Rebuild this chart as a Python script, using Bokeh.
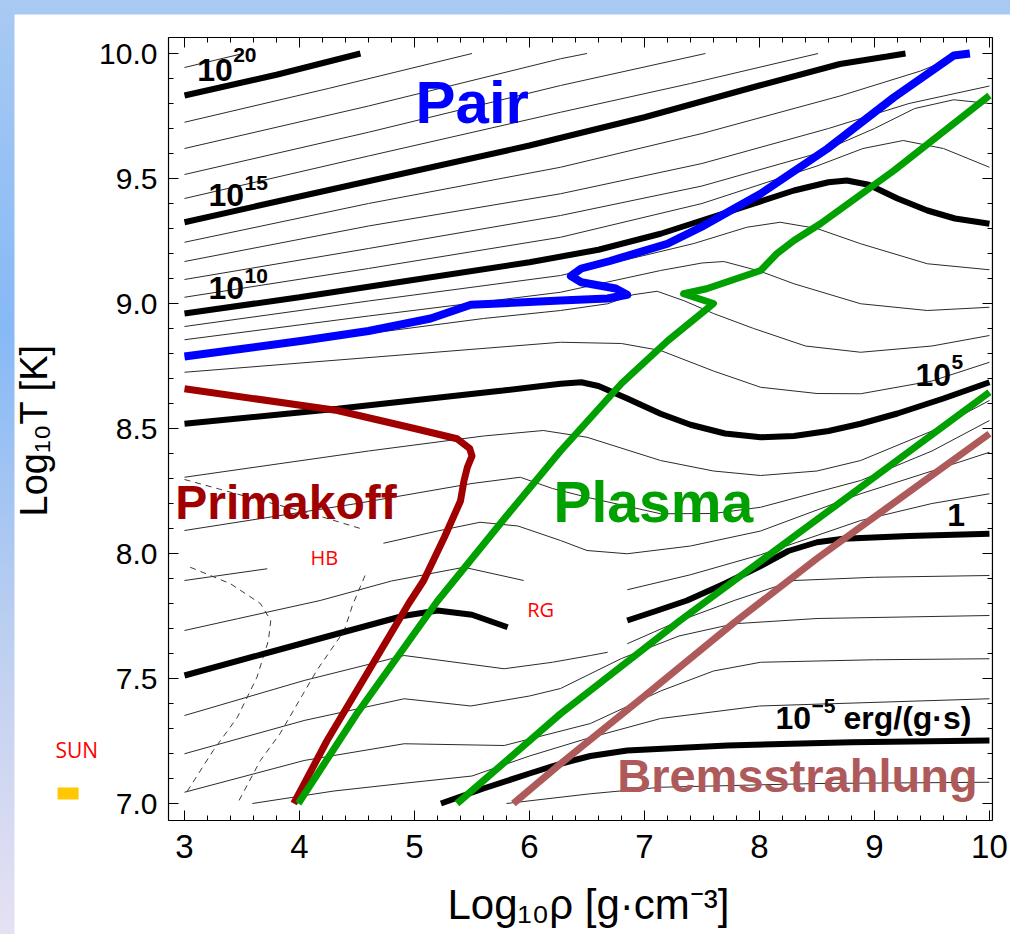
import math
from bokeh.plotting import figure
from bokeh.models import Range1d, LinearAxis, FixedTicker, Label
from bokeh.layouts import column
from bokeh.embed import file_html
from bokeh.resources import INLINE

FONT = "Liberation Sans"

# ---------------- axes ----------------
x_ticks = [3, 4, 5, 6, 7, 8, 9, 10]
x_tick_labels = ["3", "4", "5", "6", "7", "8", "9", "10"]
y_ticks = [7.0, 7.5, 8.0, 8.5, 9.0, 9.5, 10.0]
y_tick_labels = ["7.0", "7.5", "8.0", "8.5", "9.0", "9.5", "10.0"]
x_minor_ticks = [round(3 + 0.2 * i, 1) for i in range(36)]
y_minor_ticks = [round(7 + 0.1 * i, 1) for i in range(31)]
x_title = "Log\u2081\u2080\u03c1 [g\u00b7cm\u207b\u00b3]"
y_title = "Log\u2081\u2080T [K]"

# diagram box in data units
box_x = [2.861, 10.026]
box_y = [6.932, 10.064]

# ---------------- emission-rate contours (one per decade) ----------------
lv21_x = [3.0, 3.51];                                   lv21_y = [9.944, 10.0]
lv20_x = [3.0, 3.8, 4.53];                              lv20_y = [9.832, 9.915, 10.0]
lv19_x = [3.0, 4.25, 5.50];                             lv19_y = [9.725, 9.86, 10.0]
lv18_x = [3.0, 4.6, 6.27, 6.50];                        lv18_y = [9.62, 9.79, 9.979, 10.0]
lv17_x = [3.0, 4.6, 6.27, 7.53];                        lv17_y = [9.516, 9.685, 9.872, 10.0]
lv16_x = [3.0, 4.6, 6.27, 7.4, 8.51];                   lv16_y = [9.42, 9.59, 9.765, 9.88, 10.0]
lv15_x = [3.0, 4.0, 5.0, 6.0, 7.0, 8.0, 8.7, 9.0, 9.11, 9.27]
lv15_y = [9.325, 9.428, 9.53, 9.632, 9.745, 9.872, 9.958, 9.98, 9.988, 10.0]
lv14_x = [3.0, 4.6, 6.27, 7.5, 8.7, 9.4, 9.78]
lv14_y = [9.245, 9.40, 9.545, 9.68, 9.83, 9.93, 10.0]
lv13_x = [3.0, 4.6, 6.27, 7.5, 8.6, 9.3, 10.0]
lv13_y = [9.168, 9.31, 9.439, 9.56, 9.70, 9.80, 9.87]
lv12_x = [3.0, 4.6, 6.27, 7.5, 8.5, 9.0, 9.35, 9.69, 10.0]
lv12_y = [9.096, 9.22, 9.352, 9.47, 9.60, 9.70, 9.78, 9.815, 9.80]
lv11_x = [3.0, 4.6, 6.27, 7.5, 8.5, 8.9, 9.25, 9.6, 10.0]
lv11_y = [9.025, 9.14, 9.265, 9.40, 9.55, 9.62, 9.652, 9.62, 9.545]
lv10_x = [3.0, 4.0, 5.0, 6.0, 6.6, 7.14, 7.72, 8.30, 8.6, 8.76, 8.95, 9.2, 9.46, 9.7, 10.0]
lv10_y = [8.96, 9.025, 9.095, 9.165, 9.215, 9.279, 9.365, 9.452, 9.485, 9.492, 9.475, 9.42, 9.372, 9.34, 9.319]
lv9_x = [3.0, 4.6, 6.27, 7.43, 7.89, 8.18, 8.5, 8.88, 9.46, 10.0]
lv9_y = [8.908, 9.01, 9.112, 9.24, 9.305, 9.325, 9.30, 9.239, 9.159, 9.135]
lv8_x = [3.0, 4.6, 6.27, 7.14, 7.5, 7.69, 8.0, 8.30, 8.88, 9.46, 10.0]
lv8_y = [8.855, 8.95, 9.045, 9.132, 9.162, 9.168, 9.13, 9.079, 8.999, 8.972, 8.985]
lv7_x = [3.0, 4.6, 5.6, 6.27, 6.68, 6.9, 7.11, 7.35, 7.6, 7.95, 8.4, 8.88, 9.5, 10.0]
lv7_y = [8.79, 8.88, 8.94, 8.972, 8.999, 9.035, 9.049, 9.01, 8.96, 8.90, 8.83, 8.805, 8.83, 8.872]
lv6_x = [3.0, 4.5, 6.27, 6.8, 7.14, 7.6, 8.01, 8.5, 8.88, 9.5, 10.0]
lv6_y = [8.725, 8.78, 8.845, 8.84, 8.812, 8.73, 8.665, 8.64, 8.639, 8.69, 8.765]
lv5_x = [3.0, 4.33, 5.77, 6.27, 6.45, 6.6, 6.85, 7.14, 7.4, 7.7, 8.01, 8.3, 8.6, 8.88, 9.2, 9.6, 10.0]
lv5_y = [8.519, 8.579, 8.652, 8.679, 8.685, 8.67, 8.62, 8.559, 8.515, 8.48, 8.465, 8.47, 8.49, 8.519, 8.56, 8.62, 8.685]
lv4_x = [3.0, 4.6, 5.6, 6.12, 6.5, 7.14, 7.6, 8.01, 8.5, 8.88, 9.5, 10.0]
lv4_y = [8.305, 8.41, 8.47, 8.492, 8.465, 8.372, 8.33, 8.312, 8.33, 8.372, 8.49, 8.612]
lv3_x = [3.0, 4.5, 5.5, 5.92, 6.2, 6.5, 7.14, 7.6, 8.01, 8.88, 9.5, 10.0]
lv3_y = [8.092, 8.2, 8.28, 8.305, 8.26, 8.225, 8.159, 8.16, 8.185, 8.292, 8.41, 8.532]
lv2a_x = [3.0, 3.72];                                   lv2a_y = [7.892, 7.939]
lv2b_x = [4.73, 5.2, 5.57, 5.9, 6.27, 6.5, 6.85, 7.4, 8.01, 8.88, 9.5, 10.0]
lv2b_y = [8.041, 8.09, 8.125, 8.11, 8.052, 8.012, 7.999, 8.03, 8.09, 8.239, 8.33, 8.405]
lv1a_x = [3.0, 3.46, 4.18, 4.8, 5.43, 5.95];            lv1a_y = [7.692, 7.739, 7.812, 7.89, 7.945, 7.892]
lv1b_x = [6.85, 7.4, 8.01, 8.88, 9.5, 10.0];            lv1b_y = [7.855, 7.915, 7.995, 8.132, 8.2, 8.239]
lv0a_x = [3.0, 3.7, 4.33, 4.9, 5.2, 5.5, 5.81];         lv0a_y = [7.512, 7.6, 7.679, 7.75, 7.772, 7.755, 7.705]
lv0b_x = [6.85, 7.1, 7.37, 7.7, 8.01, 8.25, 8.5, 8.73, 9.3, 10.0]
lv0b_y = [7.732, 7.77, 7.812, 7.88, 7.95, 8.01, 8.045, 8.059, 8.07, 8.079]
lvm1a_x = [3.0, 4.04, 4.91, 5.78, 6.2, 6.53, 6.68];     lvm1a_y = [7.352, 7.492, 7.592, 7.539, 7.565, 7.592, 7.605]
lvm1b_x = [6.85, 7.3, 7.78, 8.30, 9.0, 10.0];           lvm1b_y = [7.639, 7.73, 7.812, 7.892, 7.905, 7.912]
lvm2_x = [3.0, 4.04, 4.91, 5.49, 6.0, 6.27, 6.8, 7.3, 7.78, 8.5, 10.0]
lvm2_y = [7.199, 7.332, 7.419, 7.39, 7.43, 7.46, 7.58, 7.67, 7.719, 7.74, 7.752]
lvm3_x = [3.0, 4.04, 4.91, 5.78, 6.53, 7.14, 7.6, 8.01, 9.0, 10.0]
lvm3_y = [7.045, 7.172, 7.239, 7.232, 7.32, 7.45, 7.53, 7.565, 7.575, 7.579]
lvm4_x = [3.59, 4.3, 4.91, 5.5, 6.0, 6.5, 7.14, 8.0, 10.0]
lvm4_y = [7.0, 7.05, 7.081, 7.11, 7.19, 7.26, 7.34, 7.39, 7.419]
lvm5_x = [5.23, 5.6, 6.0, 6.27, 6.53, 6.85, 7.72, 8.8, 10.0]
lvm5_y = [7.0, 7.06, 7.12, 7.159, 7.19, 7.212, 7.232, 7.245, 7.252]
lvm6_x = [5.8, 6.53, 7.14, 8.5, 10.0];                  lvm6_y = [7.0, 7.039, 7.065, 7.08, 7.085]

# HB / RG dashed boundaries
hb1_x = [3.05, 3.40, 3.66, 3.75, 3.73, 3.63, 3.46, 3.25, 3.01]
hb1_y = [7.945, 7.879, 7.80, 7.732, 7.652, 7.505, 7.345, 7.212, 7.039]
hb2_x = [4.57, 4.46, 4.39, 4.15, 3.83, 3.66, 3.46]
hb2_y = [7.912, 7.792, 7.692, 7.532, 7.279, 7.172, 7.0]
hb3_x = [3.0, 3.6, 4.1, 4.53]
hb3_y = [8.296, 8.22, 8.16, 8.10]

# dominance boundaries
pair_x = [3.0, 4.04, 4.6, 5.14, 5.49, 6.27, 6.68, 6.85, 6.75, 6.45, 6.36, 6.45, 6.7, 7.2, 7.49, 8.01, 8.59, 9.17, 9.69, 9.83]
pair_y = [8.788, 8.852, 8.89, 8.94, 8.995, 9.012, 9.02, 9.035, 9.06, 9.085, 9.11, 9.14, 9.17, 9.239, 9.305, 9.439, 9.619, 9.825, 9.992, 10.0]
plasma1_x = [3.99, 4.5, 5.2, 5.8, 6.27, 6.8, 7.2, 7.60, 7.34, 7.54, 8.01, 8.15, 8.30, 8.53, 9.17, 10.0]
plasma1_y = [7.0, 7.36, 7.81, 8.15, 8.41, 8.68, 8.85, 9.0, 9.039, 9.059, 9.132, 9.199, 9.252, 9.319, 9.532, 9.832]
plasma2_x = [5.37, 6.27, 7.31, 8.6, 10.0]
plasma2_y = [7.0, 7.359, 7.732, 8.17, 8.645]
prima_x = [3.0, 4.33, 5.0, 5.37, 5.48, 5.50, 5.46, 5.43, 5.40, 5.26, 5.08, 4.95, 4.62, 4.24, 3.95]
prima_y = [8.659, 8.572, 8.50, 8.459, 8.42, 8.39, 8.345, 8.29, 8.21, 8.065, 7.892, 7.80, 7.545, 7.252, 7.0]
brems_x = [5.86, 6.27, 7.0, 7.77, 8.5, 10.0]
brems_y = [7.0, 7.159, 7.43, 7.72, 7.98, 8.479]

# the Sun marker (left of the diagram box)
sun_x = [1.896, 2.079]
sun_y = [7.016, 7.064]

thin_x = [lv21_x, lv19_x, lv18_x, lv17_x, lv16_x, lv14_x, lv13_x, lv12_x, lv11_x,
          lv9_x, lv8_x, lv7_x, lv6_x, lv4_x, lv3_x, lv2a_x, lv2b_x, lv1a_x, lv1b_x,
          lvm1a_x, lvm1b_x, lvm2_x, lvm3_x, lvm4_x, lvm6_x]
thin_y = [lv21_y, lv19_y, lv18_y, lv17_y, lv16_y, lv14_y, lv13_y, lv12_y, lv11_y,
          lv9_y, lv8_y, lv7_y, lv6_y, lv4_y, lv3_y, lv2a_y, lv2b_y, lv1a_y, lv1b_y,
          lvm1a_y, lvm1b_y, lvm2_y, lvm3_y, lvm4_y, lvm6_y]
thick_x = [lv20_x, lv15_x, lv10_x, lv5_x, lv0a_x, lv0b_x, lvm5_x]
thick_y = [lv20_y, lv15_y, lv10_y, lv5_y, lv0a_y, lv0b_y, lvm5_y]

# ---------------- figure ----------------
p = figure(width=996, height=920,
           x_range=Range1d(1.5217, 10.183), y_range=Range1d(6.476, 10.156),
           output_backend="svg", toolbar_location=None,
           min_border_left=0, min_border_right=0, min_border_top=0, min_border_bottom=0)
p.grid.visible = False
p.outline_line_color = None
p.background_fill_color = "white"
p.border_fill_color = "white"


def style_axis(ax, size="30px", standoff=10):
    ax.axis_line_color = None
    ax.major_tick_in = 10
    ax.major_tick_out = 0
    ax.minor_tick_in = 5
    ax.minor_tick_out = 0
    ax.major_tick_line_color = "black"
    ax.minor_tick_line_color = "black"
    ax.major_label_text_font = FONT
    ax.major_label_text_font_size = size
    ax.major_label_text_color = "black"
    ax.major_label_standoff = standoff


xb = p.below[0]
xb.ticker = FixedTicker(ticks=x_ticks, minor_ticks=x_minor_ticks)
xb.major_label_overrides = dict(zip(x_ticks, x_tick_labels))
style_axis(xb, "33px", 14)
xb.fixed_location = box_y[0]

yl = p.left[0]
yl.ticker = FixedTicker(ticks=y_ticks, minor_ticks=y_minor_ticks)
yl.major_label_overrides = dict(zip(y_ticks, y_tick_labels))
style_axis(yl, "30px", 11)
yl.fixed_location = box_x[0]

xt = LinearAxis(ticker=FixedTicker(ticks=x_ticks, minor_ticks=x_minor_ticks))
style_axis(xt, "10px", 0)
xt.major_label_overrides = {t: "" for t in x_ticks}
xt.fixed_location = box_y[1]
p.add_layout(xt, "above")
yr = LinearAxis(ticker=FixedTicker(ticks=y_ticks, minor_ticks=y_minor_ticks))
style_axis(yr, "10px", 0)
yr.major_label_overrides = {t: "" for t in y_ticks}
yr.fixed_location = box_x[1]
p.add_layout(yr, "right")

# diagram box
p.quad(left=[box_x[0]], right=[box_x[1]], bottom=[box_y[0]], top=[box_y[1]],
       fill_color=None, line_color="black", line_width=1.2)

# contours
p.multi_line(xs=thin_x, ys=thin_y, line_color="#2b2b2b", line_width=1.0)
p.multi_line(xs=[hb1_x, hb2_x, hb3_x], ys=[hb1_y, hb2_y, hb3_y],
             line_color="#3a3a3a", line_width=1.0, line_dash="6 5")
p.multi_line(xs=thick_x, ys=thick_y, line_color="black", line_width=6)

# boundaries
p.line(brems_x, brems_y, line_color="#ae5a5a", line_width=7)
p.line(plasma2_x, plasma2_y, line_color="#00a000", line_width=7)
p.line(prima_x, prima_y, line_color="#a00000", line_width=7, line_join="round")
p.line(plasma1_x, plasma1_y, line_color="#00a000", line_width=7, line_join="round")
p.line(pair_x, pair_y, line_color="#0000ff", line_width=8, line_join="round")

# Sun marker
p.quad(left=[sun_x[0]], right=[sun_x[1]], bottom=[sun_y[0]], top=[sun_y[1]],
       fill_color="#ffc800", line_color=None)

BASE = 0.38  # the renderer puts the alphabetic baseline this many ems low


def lab(x, y, text, size, color="black", bold=True, font=FONT, dx=0, dy=0, angle=0.0):
    if angle == 0.0:
        dy = dy + BASE * size
    else:
        dx = dx - BASE * size
    p.add_layout(Label(x=x, y=y, text=text, x_offset=dx, y_offset=dy, angle=angle,
                       text_font=font, text_font_size=f"{size}px", text_color=color,
                       text_font_style="bold" if bold else "normal",
                       text_align="left", text_baseline="alphabetic"))


# contour level labels
lab(3.11, 9.885, "10", 32); lab(3.11, 9.885, "20", 21, dx=36, dy=19)
lab(3.209, 9.384, "10", 32); lab(3.209, 9.384, "15", 21, dx=36, dy=17)
lab(3.209, 9.012, "10", 32); lab(3.209, 9.012, "10", 21, dx=36, dy=17)
lab(9.357, 8.665, "10", 32); lab(9.357, 8.665, "5", 21, dx=36, dy=17)
lab(9.632, 8.105, "1", 32)
lab(8.139, 7.292, "10", 32); lab(8.139, 7.292, "\u22125", 21, dx=36, dy=17)
lab(8.139, 7.292, "erg/(g\u00b7s)", 32, dx=68)

# region labels
lab(5.009, 9.712, "Pair", 60, color="#0000ff")
lab(2.92, 8.132, "Primakoff", 48, color="#a00000")
lab(6.209, 8.12, "Plasma", 57, color="#00a000")
lab(6.763, 7.039, "Bremsstrahlung", 47, color="#ae5a5a")
lab(4.096, 7.952, "HB", 20, color="#ff0000", bold=False, font="Open Sans")
lab(5.98, 7.745, "RG", 20, color="#ff0000", bold=False, font="Open Sans")
lab(1.878, 7.184, "SUN", 21, color="#ff0000", bold=False, font="Open Sans")

# axis titles
lab(1.817, 8.148, y_title, 38, bold=False, angle=math.pi / 2)
lab(5.287, 6.532, x_title, 42, bold=False)

page = column(p, styles={
    "background": "linear-gradient(180deg, #a9caf3 0%, #86b9f6 35%, #bccff0 68%, #e6e1f3 100%)",
    "padding": "14px 0px 0px 14px"})

open("out.html", "w").write(file_html(page, INLINE))
